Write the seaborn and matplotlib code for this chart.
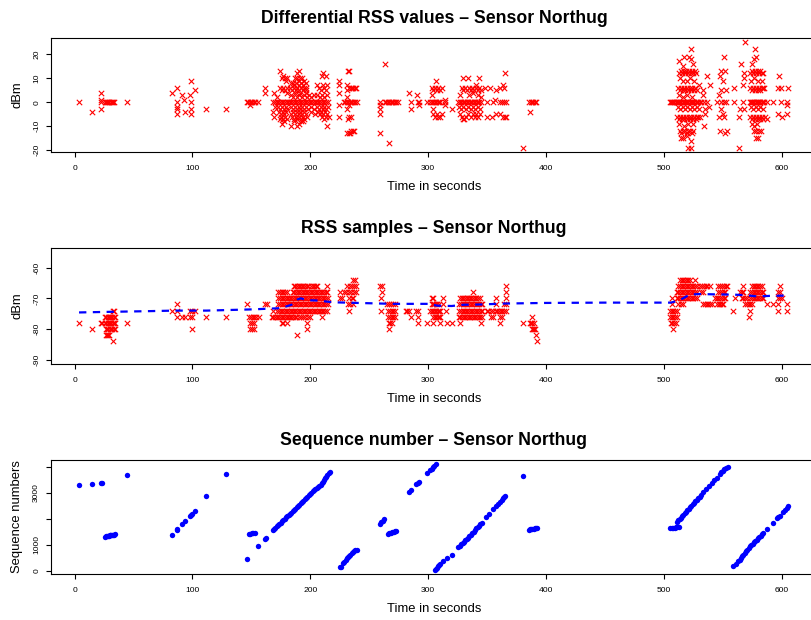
import matplotlib
matplotlib.use("Agg")
import matplotlib.pyplot as plt
import pandas as pd
import seaborn as sns

# ---------------- data: differential RSS (time s, dBm) ----------------
diff_early = [(3.7,0),(15,-4),(22.5,4),(22.5,1),(22.5,0),(22.5,-3),
    (25.5,0),(26.5,0),(27.5,0),(28.5,0),(29.5,0),(30.5,0),(31.5,0),(32.5,0),(33.5,0),(44,0),
    (82.3,4),(86.6,6),(86.6,0),(86.6,-2),(86.6,-3),(86.6,-5),(90.8,3),(93,1),(93.8,-4),(97.5,3),
    (98.8,9),(98.8,0),(98.8,-3),(98.8,-5),(102,5),(111.5,-3),(128.7,-3),
    (146,0),(147.2,0),(148.4,0),(148.4,-1),(149.6,0),(150.8,0),(152,0),(153.2,0),(155.5,0),(161.9,6),(161.9,4)]
diff_dense1 = [(168.6,0),(170,0),(171.4,0),(172.8,0),(174.2,0),(175.6,0),(177,0),(178.4,0),(179.8,0),(181.2,0),
    (182.6,0),(184,0),(185.4,0),(186.8,0),(188.2,0),(189.6,0),(191,0),(192.4,0),(193.8,0),(195.2,0),(196.6,0),
    (198,0),(199.4,0),(200.8,0),(202.2,0),(203.6,0),(205,0),(206.4,0),(207.8,0),(209.2,0),(210.6,0),(212,0),
    (213.4,0),(214.8,0),
    (175.7,10),(177,11),(178.2,10),(179.4,9),(180.5,10),(185.5,8),(187,10),(188.5,10),(190,9),(191.5,10),
    (193.3,10),(194.8,9),(196.2,8),(174.3,13),(188.5,12),(190.5,13),(209.8,11),(213.2,11),(211,12),
    (184,8),(186,7),(188,8),(190,7),(192,8),(194,7),(196,6),
    (174.3,6),(175.7,5),(177,6),(178.4,5),(179.8,6),(183,6),(184.5,5),(186,6),(187.5,5),(189,6),(190.5,5),
    (192,6),(193.5,5),(195,6),(196.5,5),(206,7),(207.5,6),(209,5),(210.5,7),(212,6),(213.5,5),(214.5,7),
    (169,4),(172,2),(180,4),(184,3),(185.5,2),(187,4),(188.5,2),(190,3),(191.5,4),(193,2),(194.5,3),(196,4),
    (197.5,2),(199,3),(201,2),(203,3),(206,3),(208,2),(210,3),(212,2),(214,3),
    (170,-2),(173,-2),(174.5,-3),(176,-2),(177.5,-3),(179,-2),(180.5,-3),(184,-2),(185.5,-3),(187,-2),
    (188.5,-3),(190,-2),(191.5,-3),(193,-2),(194.5,-3),(196,-2),(198,-3),(200.5,-2),(203,-3),(206,-2),
    (207.5,-3),(209,-2),(210.5,-3),(212,-2),(213.5,-3),(215,-2),
    (168.6,-4),(173.5,-4),(175,-5),(176.5,-4),(178,-5),(179.5,-4),(184,-5),(185.5,-4),(187,-5),(188.5,-4),
    (190,-5),(191.5,-4),(193,-5),(194.5,-4),(196,-5),(201,-4),(204,-5),(206.5,-4),(208,-5),(209.5,-4),
    (211,-5),(212.5,-4),(214,-5),
    (169.5,-6),(174,-7),(175.5,-6),(177,-7),(178.5,-6),(180,-7),(184.5,-6),(186,-7),(187.5,-6),(189,-7),
    (190.5,-6),(192,-7),(193.5,-6),(195,-7),(197,-6),(210,-6),(212,-7),(213.5,-6),(216,-6),
    (176,-9),(178,-8),(184,-10),(186,-8),(188.4,-10),(190,-9),(192,-8),(194,-8),(214.6,-10)]
diff_mid = [(224.5,9),(224.5,7),(224.5,4),(224.5,-1),(224.5,-6),
    (228.6,0),(229.8,0),(231,0),(232.2,0),(233.4,0),(234.6,0),(235.8,0),(237,0),(238.2,0),(239.4,0),
    (232.4,13),(233.2,13),(231.5,7),(231.5,5),(233,6),(234.2,6),(235.4,6),(236.6,6),(237.8,6),(239,6),
    (231.5,-3),(233,-6),(234.2,-6),(232,-7),(231.5,-13),(232.5,-13),(233.5,-13),(234.5,-12),(236,-12),
    (237,-12),(231,2),(233,-1),
    (259,0),(259,-1),(259,-3),(259,-5),(259,-13),(263,16),(266.8,-17),
    (263.4,0),(264.6,0),(265.8,0),(267,0),(268.2,0),(269.4,0),(270.6,0),(271.8,0),(273,0),(274.2,0),
    (284,4),(285.5,0),(285.5,-3),(290.8,3),(291.6,0),(292.5,0),(292.5,-1),(299.3,0),
    (302,0),(303.2,0),(304.4,0),(305.6,0),(306.8,0),(308,0),(309.2,0),(310.4,0),
    (306.7,9),(303,6),(304.4,5),(305.8,6),(307.2,5),(308.6,6),(310,5),(312,6),(303,3),
    (304.4,-3),(304.4,-5),(305.8,-6),(307.2,-5),(308.6,-6),(310,-6),(311.5,-5),
    (314.3,0),(314.3,1),(314.3,-1),(320,-3)]
diff_mid2 = [(325.6,0),(326.8,0),(328,0),(329.2,0),(330.4,0),(331.6,0),(332.8,0),(334,0),(335.2,0),(336.4,0),
    (337.6,0),(338.8,0),(340,0),(341.2,0),(342.4,0),(343.6,0),(344.8,0),
    (329.9,10),(333.6,10),(343.5,10),(341,7),
    (328.5,6),(330,5),(331.5,6),(333,5),(334.5,6),(336,5),(337.5,6),(339,5),(340.5,6),(342,5),(343.5,6),(345,5),
    (327,3),(335,3),(338,4),(342,3),(345,2),
    (326,-2),(328,-3),(330,-2),(332,-3),(334,-2),(336,-3),(338,-2),(340,-3),(342,-2),(344,-3),
    (327,-5),(329,-6),(330.5,-7),(332,-6),(334,-5),(336.5,-6),(338,-5),(339.5,-6),(341,-5),(342.5,-6),
    (344,-5),(329.9,-7),
    (348.2,6),(352.4,6),(358,5),(360.9,6),(363.7,7),(364.5,6),(365.1,12),
    (349.6,0),(355.3,0),(356.7,1),(360.9,0),(362.5,0),(364,0),(366,0),
    (350.2,-6),(353.9,-6),(358,-5),(360.9,-5),(363.7,-6),(365,-6),(366,-6),
    (380.8,-19),(386.5,-4),(385.9,0),(387,0),(388.2,0),(389.4,0),(390.6,0),(391.8,0)]
diff_late = [(505,0),(506,0),(507,0),(508,0),(509,0),(510,0),(511,0),(512,0),(513,0),(514,0),(515,0),(516,0),
    (517,0),(518,0),(519,0),(520,0),(521,0),(522,0),(523,0),(524,0),(525,0),(526,0),(527,0),(528,0),
    (529.5,0),(531,0),
    (513.2,12),(514.4,13),(515.6,12),(516.8,13),(518,12),(519.2,13),(520.4,12),(521.6,13),(522.8,12),
    (524,13),(525.2,12),(526.4,13),(527.4,12),
    (513.8,10),(519.5,9),(525.7,9),(516,9),(522,10),
    (512.4,6),(513.6,5),(514.8,6),(516,5),(517.2,6),(518.4,5),(519.6,6),(520.8,5),(522,6),(523.2,5),
    (524.4,6),(525.6,5),(526.8,6),(528,5),
    (512.7,3),(516.7,2),(520,3),(524,2),
    (512,-2),(514,-3),(516,-2),(518,-3),(520,-2),(522,-3),(524,-2),(526,-3),(528,-2),(530,-3),
    (511.5,-6),(512.7,-7),(513.9,-6),(515.1,-7),(516.3,-6),(517.5,-7),(518.7,-6),(519.9,-7),(521.1,-6),
    (522.3,-7),(523.5,-6),(524.7,-7),(525.9,-6),(527.1,-7),(528.3,-6),(529.5,-6),(531,-6),
    (513.2,-9),(520.9,-9),(525.2,-9),(517,-10),
    (513.5,-12),(515,-13),(516.5,-12),(518,-12),(519.5,-13),(521,-12),(522.5,-12),(524,-13),(525,-12),
    (514.4,-15),(516,-15),(519.5,-14),(523,-16),(520.9,-19),(522.8,-19),
    (522.8,22),(521.7,19),(517.2,19),(513,17),(523.1,18),(516.1,15),(524.5,16)]
diff_late2 = [(530.2,7),(531.6,0),(533.6,5),(533.6,3),(534.2,0),(535,-3),(535,-5),(534.4,-10),(536.4,11),
    (539.2,7),(537,0),(538.7,-2),
    (548.5,13),(549.9,9),(547.7,11),(551.6,13),(551,19),(545.6,0),(548.5,0),(551,0),(552.5,0),(548.5,-3),
    (549.9,-5),(551,-6),(547.1,-6),(547.7,-12),(553.6,-12),(551.9,-13),(548.5,5),(552.7,5),(546.5,3),
    (559.4,6),(559.4,0),(563.7,-19),(564.5,-3),(565.6,16),(563.7,-6),
    (569.3,25),(568.2,12),(568.2,10),(567.6,7),(567.6,0),(568.2,-3),
    (577.3,22),(578.7,19),(575.3,16),(576.5,18),
    (573.6,12),(574.8,13),(576,12),(577.2,13),(578.4,12),(579.6,13),(580.8,12),(582,13),(583.2,12),(584.4,12),
    (574,9),(577,10),(580,9),(583,9),
    (573.6,6),(574.8,5),(576,6),(577.2,5),(578.4,6),(579.6,5),(580.8,6),(582,5),(583.2,6),(584.4,6),(585.5,6),
    (573,0),(574,0),(575,0),(576,0),(577,0),(578,0),(579,0),(580,0),(581,0),(582,0),(583,0),(584,0),(585,0),
    (574,-2),(576,-3),(578,-2),(580,-3),(582,-2),(584,-3),
    (573.6,-6),(574.8,-7),(576,-6),(577.2,-7),(578.4,-6),(579.6,-7),(580.8,-6),(582,-7),(583.2,-6),
    (584.4,-7),(585.8,-6),
    (575,-9),(577,-10),(579,-9),(576.5,-12),(578.5,-12),(580.5,-12),(582.5,-12),(578,-15),(580,-15),
    (587.4,-7),(587.4,0),(592.5,0),(598.2,11),(597.4,6),(599.4,6),(599.4,0),(597.4,-5),(600.2,-6),
    (604.4,0),(604.4,-5),(605.8,6),(604.4,-1)]

# ---------------- data: RSS samples (time s, dBm) ----------------
rss_early = [(3.7,-78),(15,-80),(22,-78),(23.2,-78),
    (26,-76),(27,-76),(28,-76),(29,-76),(30,-76),(31,-76),(32,-76),(33,-76),(34,-76),
    (25.7,-78),(26.8,-78),(27.9,-78),(29,-78),(30.1,-78),(31.2,-78),(32.3,-78),(33.4,-78),(34.2,-78),
    (26.5,-80),(27.6,-80),(28.7,-80),(29.8,-80),(30.9,-80),(32,-80),(33.1,-80),(34,-80),
    (26.5,-82),(27.5,-82),(28.5,-82),(29.5,-82),(32.6,-84),(32.6,-74),(33.8,-74),(44.1,-78),
    (82.3,-74),(86.6,-72),(86.6,-74),(86.6,-76),(90.8,-76),(93.9,-76),(97.9,-76),(99.3,-76),(97.9,-74),
    (99.3,-74),(99.3,-80),(102.1,-74),(111.5,-76),(128.7,-76),
    (146,-72),(148,-76),(149.5,-76),(151,-76),(152.5,-76),(153.5,-76),(148.5,-78),(150.5,-78),(152.5,-78),
    (148.5,-80),(150.5,-80),(152.5,-80),(156.5,-76),(161.9,-72),(163,-72)]
rss_dense1 = [(167.2,-76),(168.6,-76),(170,-76),(171.4,-76),(172.8,-76),(174.2,-76),(175.6,-76),(177,-76),
    (178.4,-76),(179.8,-76),(181.2,-76),(182.6,-76),(184,-76),(185.4,-76),(186.8,-76),(188.2,-76),
    (190.5,-76),(192,-76),(194,-76),(195.5,-76),(198,-76),(200,-76),(209.6,-76),
    (168.6,-74),(172,-74),(173.4,-74),(174.8,-74),(176.2,-74),(177.6,-74),(179,-74),(180.4,-74),(181.8,-74),
    (183.2,-74),(184.6,-74),(186,-74),(187.4,-74),(188.8,-74),(190.2,-74),(191.6,-74),(193,-74),(194.4,-74),
    (195.8,-74),(197.2,-74),(198.6,-74),(200,-74),(201.4,-74),(202.8,-74),(204.2,-74),(205.6,-74),(207,-74),
    (208.4,-74),(209.8,-74),(211.2,-74),(212.6,-74),(213.8,-74),
    (172.8,-72),(174.2,-72),(175.6,-72),(177,-72),(178.4,-72),(179.8,-72),(181.2,-72),(182.6,-72),(184,-72),
    (185.4,-72),(186.8,-72),(188.2,-72),(189.6,-72),(191,-72),(192.4,-72),(193.8,-72),(195.2,-72),(196.6,-72),
    (198,-72),(199.4,-72),(200.8,-72),(202.2,-72),(203.6,-72),(205,-72),(206.4,-72),(207.8,-72),(209.2,-72),
    (210.6,-72),(212,-72),(213.4,-72),(215,-72),
    (172.8,-70),(174.2,-70),(175.6,-70),(177,-70),(178.4,-70),(179.8,-70),(181.2,-70),(182.6,-70),(184,-70),
    (185.4,-70),(186.8,-70),(188.2,-70),(189.6,-70),(191,-70),(192.4,-70),(193.8,-70),(195.2,-70),(196.6,-70),
    (198,-70),(199.4,-70),(200.8,-70),(202.2,-70),(203.6,-70),(205,-70),(206.4,-70),(207.8,-70),(209.2,-70),
    (210.6,-70),(212,-70),(213.4,-70),(215,-70),
    (172.8,-68),(174.2,-68),(175.6,-68),(177,-68),(178.4,-68),(180,-68),(185,-68),(186.4,-68),(187.8,-68),
    (189.2,-68),(190.6,-68),(192,-68),(193.4,-68),(194.8,-68),(196.2,-68),(197.6,-68),(199,-68),(200.4,-68),
    (201.8,-68),(203.2,-68),(204.6,-68),(206,-68),(207.4,-68),(208.8,-68),(210.2,-68),(211.6,-68),(213,-68),
    (214.4,-68),
    (185.8,-66),(187.2,-66),(188.6,-66),(190,-66),(191.4,-66),(192.8,-66),(194.2,-66),(195.6,-66),(197,-66),
    (198.4,-66),(200.5,-66),(202,-66),(203.5,-66),(205,-66),(206,-66),(214.5,-66),
    (175.6,-78),(177,-78),(180,-78),(197,-78),(197,-80),(189,-82)]
rss_mid = [(225.2,-68),(225.2,-70),(227,-70),(228.5,-68),(230,-68),(231.5,-66),(232.5,-68),(233,-70),
    (233.5,-66),(234.5,-68),(235.5,-66),(236.5,-64),(238,-64),(237,-66),(238.5,-66),(237.5,-68),(239,-68),
    (236,-70),(234,-72),(236,-72),(233,-74),(232,-72),(235,-70),
    (259,-66),(261,-66),(261,-68),(259.8,-70),(259.8,-74),
    (265.5,-72),(267,-72),(268.5,-72),(270,-72),(271.5,-72),(266,-74),(267.5,-74),(269,-74),(270.5,-74),
    (272,-74),(266,-76),(267.5,-76),(269,-76),(270.5,-76),(272,-76),(266.5,-78),(268,-78),(269.5,-78),(267,-80),
    (281,-74),(282.5,-74),(284.2,-74),(285.5,-76),(291.3,-74),(291.3,-76),(291.3,-78),(290,-74),
    (303,-70),(304.5,-70),(303,-72),(304.2,-72),(305.4,-72),(306.6,-72),(307.8,-72),(309,-72),
    (302,-74),(303.2,-74),(304.4,-74),(305.6,-74),(306.8,-74),(308,-74),(309.2,-74),(310.4,-74),
    (304.4,-76),(305.6,-76),(306.8,-76),(308,-76),(309.2,-76),(310.4,-76),
    (313,-70),(312.8,-72),(314.8,-74),
    (298.7,-78),(304.4,-78),(310.1,-78),(315.7,-78),(320,-78),(327,-78),(344.6,-78),(361,-78)]
rss_mid2 = [(327,-70),(328.4,-70),(329.8,-70),(331.2,-70),(332.6,-70),(334,-70),(335.4,-70),(336.8,-70),
    (338.2,-70),(339.6,-70),(341,-70),(342.4,-70),(343.8,-70),
    (326.4,-72),(327.8,-72),(329.2,-72),(330.6,-72),(332,-72),(333.4,-72),(334.8,-72),(336.2,-72),(337.6,-72),
    (339,-72),(340.4,-72),(341.8,-72),(343.2,-72),(344.6,-72),(346,-72),
    (326.4,-74),(327.8,-74),(329.2,-74),(330.6,-74),(332,-74),(333.4,-74),(334.8,-74),(336.2,-74),(337.6,-74),
    (339,-74),(340.4,-74),(341.8,-74),(343.2,-74),(344.6,-74),(346,-74),
    (326,-76),(327.4,-76),(328.8,-76),(330.2,-76),(331.6,-76),(333,-76),(334.4,-76),(335.8,-76),(337.2,-76),
    (338.6,-76),(340,-76),(341.4,-76),(342.8,-76),(344.2,-76),(345.6,-76),(338.3,-68),
    (349.7,-74),(350.8,-74),(353,-74),(355.3,-74),(357.3,-74),(358.7,-74),(360.1,-74),(361.5,-74),(363,-74),
    (364.5,-74),(366.5,-74),(353,-76),(355.3,-76),(361,-76),(362.5,-76),
    (357.3,-72),(364.8,-72),(357.8,-70),(366,-66),(366,-68),(366,-70),(366,-72),
    (380.8,-78),(387.8,-76),(386.5,-78),(387.5,-78),(388.5,-78),(389.5,-78),(388,-80),(389,-80),(390,-80),
    (391,-80),(391.3,-82),(392.2,-84)]
rss_late = [(513.8,-64),(515.2,-64),(516.6,-64),(518,-64),(519.4,-64),(520.8,-64),(522.2,-64),(526.4,-64),
    (512.4,-66),(513.8,-66),(515.2,-66),(516.6,-66),(518,-66),(519.4,-66),(520.8,-66),(522.2,-66),(523.6,-66),
    (525,-66),(526.4,-66),(528,-66),(531,-66),(532.4,-66),(534,-66),(535.5,-66),(537,-66),(539.3,-66),
    (546.4,-66),(548,-66),(549.5,-66),(551,-66),(552.5,-66),(553.4,-66),(567.6,-66),(574.7,-66),(576.2,-66),
    (577.6,-66),(579,-66),(580.4,-66),(581.8,-66),(583.2,-66),(598.7,-66),
    (511,-68),(512.4,-68),(513.8,-68),(515.2,-68),(516.6,-68),(518,-68),(519.4,-68),(520.8,-68),(522.2,-68),
    (523.6,-68),(525,-68),(526.4,-68),(528,-68),(532,-68),(533.6,-68),(546.4,-68),(548,-68),(549.5,-68),
    (551,-68),(552,-68),(564.8,-68),(566.2,-68),(567.6,-68),(573.3,-68),(574.7,-68),(576.2,-68),(577.6,-68),
    (579,-68),(580.4,-68),(581.8,-68),(583.2,-68),(584.6,-68),(597.3,-68),(598.7,-68),
    (506.7,-70),(511,-70),(512.4,-70),(513.8,-70),(515.2,-70),(516.6,-70),(518,-70),(519.4,-70),(520.8,-70),
    (522.2,-70),(523.6,-70),(525,-70),(526.4,-70),(528,-70),(543.5,-70),(545,-70),(546.4,-70),(548,-70),
    (549.5,-70),(551,-70),(552,-70),(560.5,-70),(566.2,-70),(567.6,-70),(569,-70),(570.4,-70),(573.3,-70),
    (574.7,-70),(576.2,-70),(577.6,-70),(579,-70),(580.4,-70),(581.8,-70),(583.2,-70),(584.6,-70),
    (597.3,-70),(598.7,-70),(600.1,-70),
    (506.7,-72),(512.4,-72),(514.5,-72),(516.7,-72),(533.6,-72),(535,-72),(536.5,-72),(538,-72),(539.3,-72),
    (540.7,-72),(545,-72),(546.5,-72),(548,-72),(549.5,-72),(550.6,-72),(569,-72),(570.5,-72),(572,-72),
    (573.5,-72),(574.7,-72),(587.4,-72),(593.1,-72),(597.3,-72),(604.4,-72),
    (505.3,-74),(506.7,-74),(508.1,-74),(509.5,-74),(511,-74),(559.1,-74),(573.3,-74),(597.3,-74),(604.4,-74),
    (505.3,-76),(506.7,-76),(508.1,-76),(509.5,-76),(511,-76),(572.7,-76),
    (505.8,-78),(507.2,-78),(508.6,-78),(510,-78),(508.1,-80)]
# running mean of the RSS samples (dashed line)
rss_mean = [(3.7,-74.6),(30,-74.4),(60,-74.2),(85,-74.0),(112,-74.0),(151,-73.6),(175,-73.2),(184,-72.1),
    (189,-70.4),(192,-70.0),(197,-70.6),(205,-70.7),(220,-71.3),(240,-71.5),(270,-71.8),(300,-71.8),
    (308,-72.4),(320,-72.5),(330,-72.1),(345,-72.0),(365,-71.7),(400,-71.5),(450,-71.4),(506,-71.4),
    (512,-70.8),(516,-70.1),(522,-68.8),(530,-68.6),(543,-68.7),(560,-68.8),(570,-69.0),(580,-69.4),
    (590,-69.2),(605.8,-69.1)]

# ---------------- data: sequence numbers (time s, number) ----------------
seq_early = [(3.7,3300),(15,3340),(22.5,3370),(23.3,3385),
    (25.8,1300),(26.5,1320),(27.2,1330),(28,1340),(28.8,1350),(29.6,1360),(30.4,1370),(31.2,1375),(32,1380),
    (32.8,1385),(33.6,1390),(34.2,1400),(44.1,3680),
    (82.3,1370),(86.6,1580),(87,1600),(90.8,1800),(93.9,1925),(97.9,2110),(98.6,2150),(99.3,2180),
    (102.1,2300),(111.5,2870),(128.7,3720),
    (146,460),(148,1410),(149.2,1430),(150.4,1440),(151.6,1455),(152.8,1470),(156,960),(161.5,1220),(162.5,1250)]
seq_ramp1 = [(168.1,1551),(169.3,1610),(170.4,1660),(171.4,1705),(172.5,1755),(173.6,1800),(174.8,1855),
    (175.9,1910),(177.1,1962),(178.2,2005),(179.4,2060),(180.5,2100),(181.6,2140),(182.8,2179),(183.9,2230),
    (185,2285),(186.2,2340),(187.3,2395),(188.4,2449),(189.5,2500),(190.7,2550),(191.8,2600),(193,2655),
    (194.1,2705),(195.2,2755),(196.4,2810),(197.5,2860),(198.7,2915),(199.8,2962),(201,3010),(202.1,3055),
    (203.2,3095),(204.3,3140),(205.4,3179),(206.5,3225),(207.6,3270),(208.7,3320),(209.7,3372),(210.6,3430),
    (211.5,3500),(212.5,3564),(213.5,3625),(214.6,3685),(215.7,3750),(216.7,3808)]
seq_mid = [(225.2,128),(225.8,140),(228,300),(229,350),(230,420),(231,470),(232,520),(233,570),(234,620),
    (235,670),(236,715),(237,750),(238,780),(239.4,808),
    (259,1808),(260.3,1860),(261.5,1920),(262.8,1974),
    (266,1423),(267.2,1450),(268.4,1470),(269.6,1485),(270.8,1500),(272,1515),(273,1526),
    (284.1,3050),(285.5,3110),(290,3330),(291.2,3380),(292.4,3420),(298.9,3770),(301.8,3880),(303,3940),
    (304.2,3990),(305.4,4050),(306.6,4110)]
seq_ramp2 = [(305.8,12),(306.7,50),(307.6,110),(308.6,167),(309.5,210),(310.4,260),(312.9,359),(315.7,487),
    (320,615),(325.6,910),(326.8,960),(328,1015),(329.2,1070),(330.4,1120),(331.6,1170),(332.7,1218),
    (333.9,1275),(335.1,1330),(336.3,1385),(337.5,1440),(338.6,1510),(339.8,1577),(341,1630),(342.2,1680),
    (343.3,1730),(344.4,1785),(345.4,1833),(349.1,2064),(352,2200),(355.3,2372),(357.5,2480),(359.5,2590),
    (361,2667),(362.5,2740),(363.8,2800),(364.8,2850),(365.5,2885),
    (380.8,3641),(385.5,1577),(386.5,1590),(387.5,1600),(388.5,1610),(389.5,1620),(390.5,1630),(391.5,1635),
    (392.5,1641)]
seq_late = [(505.6,1628),(506.8,1640),(508,1650),(509.2,1655),(510.4,1665),(511.6,1670),(512.6,1680),
    (511.2,1885),(512.3,1940),(513.4,1995),(514.5,2050),(515.6,2100),(516.7,2154),(517.8,2210),(518.9,2270),
    (520,2330),(521.2,2390),(522.3,2449),(523.4,2505),(524.5,2560),(525.6,2615),(526.8,2675),(528,2731),
    (529.2,2790),(530.4,2850),(531.6,2920),(533.6,3051),(536,3150),(538.5,3260),(540.7,3372),(543,3480),
    (545,3590),(547.8,3731),(549,3790),(550.2,3850),(551.5,3910),(552.8,3960),(554.3,4013),
    (559.1,167),(561.5,270),(563.3,359),(564.5,420),(565.7,480),(566.7,560),(567.6,615),(568.8,680),
    (570,745),(571.1,810),(572.2,870),(573.3,936),(574.4,990),(575.5,1040),(576.7,1090),(577.8,1140),
    (579,1192),(580.1,1245),(581.2,1295),(582.4,1350),(583.5,1400),(584.6,1449),(587.4,1603),(592.5,1833),
    (596.5,2030),(597.3,2064),(598.5,2120),(601.5,2282),(603,2350),(604.5,2430),(605.8,2500)]

x_ticks = [0, 100, 200, 300, 400, 500, 600]
diff_ticks = [-20, -10, 0, 10, 20]
rss_ticks = [-90, -80, -70, -60]
seq_ticks = [0, 1000, 2000, 3000, 4000]
seq_tick_labels = ["0", "1000", "", "3000", ""]

titles = ["Differential RSS values \u2013 Sensor Northug",
          "RSS samples \u2013 Sensor Northug",
          "Sequence number \u2013 Sensor Northug"]


def frame(*groups):
    return pd.DataFrame([p for g in groups for p in g], columns=["t", "v"])


sns.set_style("ticks")
plt.rcParams["font.family"] = ["Liberation Sans", "DejaVu Sans"]
plt.rcParams["axes.unicode_minus"] = False
plt.rcParams["text.color"] = "black"
plt.rcParams["axes.labelcolor"] = "black"

fig = plt.figure(figsize=(8.12, 6.2), dpi=100)
W, H = 812.0, 620.0
left, right = 51.0, 817.0
boxes = [(38, 152), (248, 364), (460, 574)]
axs = [fig.add_axes([left / W, 1 - b / H, (right - left) / W, (b - t) / H]) for t, b in boxes]


def style(ax, title, ylabel, ylim, yticks, ylabels=None):
    ax.set_xlim(-20.1, 630.1)
    ax.set_ylim(*ylim)
    ax.set_xticks(x_ticks)
    ax.set_xticklabels([str(v) for v in x_ticks])
    ax.set_yticks(yticks)
    ax.set_yticklabels(ylabels if ylabels is not None else [str(v) for v in yticks])
    ax.set_title(title, fontsize=12.7, fontweight="bold", pad=10.5, color="black")
    ax.set_xlabel("Time in seconds", fontsize=9.4, labelpad=6.5, color="black")
    ax.set_ylabel(ylabel, fontsize=9.4, labelpad=7, color="black")
    ax.tick_params(length=3.8, width=0.8, labelsize=6.1, direction="out", colors="black")
    ax.tick_params(axis="x", pad=5.5)
    ax.tick_params(axis="y", pad=4, labelrotation=90)
    for lab in ax.get_yticklabels():
        lab.set_va("center")
    for s in ax.spines.values():
        s.set_color("black")
        s.set_linewidth(0.8)
        s.set_visible(True)


# top panel
d1 = frame(diff_early, diff_dense1, diff_mid, diff_mid2, diff_late, diff_late2)
sns.scatterplot(data=d1, x="t", y="v", marker="x", color="#ff0000", s=15, linewidth=0.8, ax=axs[0])
style(axs[0], titles[0], "dBm", (-20.76, 26.76), diff_ticks)

# middle panel
d2 = frame(rss_early, rss_dense1, rss_mid, rss_mid2, rss_late)
sns.scatterplot(data=d2, x="t", y="v", marker="x", color="#ff0000", s=15, linewidth=0.8, ax=axs[1])
dm = frame(rss_mean)
sns.lineplot(data=dm, x="t", y="v", color="#0000ff", lw=1.6, linestyle=(0, (3.3, 2.9)),
             ax=axs[1], zorder=5)
style(axs[1], titles[1], "dBm", (-91.4, -53.6), rss_ticks)

# bottom panel
d3 = frame(seq_early, seq_ramp1, seq_mid, seq_ramp2, seq_late)
sns.scatterplot(data=d3, x="t", y="v", marker="o", color="#0000ff", s=15, linewidth=0, ax=axs[2])
style(axs[2], titles[2], "Sequence numbers", (-130, 4270), seq_ticks, seq_tick_labels)

fig.savefig("out.png", dpi=100)
